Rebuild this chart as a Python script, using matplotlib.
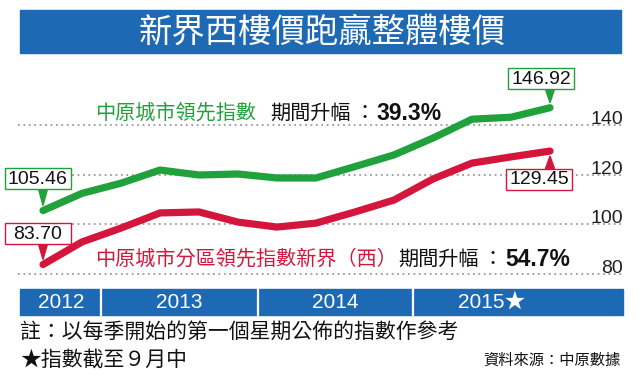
import matplotlib
matplotlib.use("Agg")
import matplotlib.pyplot as plt
import matplotlib.transforms as mtransforms
from matplotlib.patches import Rectangle, Polygon

plt.rcParams['font.family'] = ['Liberation Sans', 'Noto Sans CJK TC', 'DejaVu Sans']

# quarterly readings (first week of each quarter), last one = mid September 2015
quarters = ['2012Q3', '2012Q4', '2013Q1', '2013Q2', '2013Q3', '2013Q4', '2014Q1',
            '2014Q2', '2014Q3', '2014Q4', '2015Q1', '2015Q2', '2015Q3', '2015-09']
cci = [105.46, 112.4, 116.5, 121.8, 119.8, 120.2, 118.6,
       118.6, 123.2, 127.9, 134.7, 142.3, 143.1, 146.92]
cci_ntw = [83.70, 92.8, 98.4, 104.5, 104.9, 100.8, 98.8,
           100.4, 104.9, 109.7, 118.2, 124.6, 127.1, 129.45]
years = ['2012', '2013', '2014', '2015★']
yticks = [80, 100, 120, 140]

BLUE = '#1e69b4'
GREEN = '#21a13b'
RED = '#d5163c'

W, H = 639, 376
fig = plt.figure(figsize=(W / 100, H / 100), dpi=100)
fig.patch.set_facecolor('white')

# one axes over the whole picture, data mapped so one quarter = 39 px
x0_px, dx_px = 43, 39.0
y120_px, py_per_unit = 174.5, 2.48
ax = fig.add_axes([0, 0, 1, 1])
ax.set_xlim((0 - x0_px) / dx_px, (W - x0_px) / dx_px)
ax.set_ylim(120 - (H - y120_px) / py_per_unit, 120 + y120_px / py_per_unit)
ax.set_axis_off()


def px2x(px):
    return (px - x0_px) / dx_px


def fx(px):
    return px / W


def fy(py):
    return 1 - py / H


xs = list(range(len(quarters)))

# title bar
fig.patches.append(Rectangle((fx(20), fy(53)), fx(621) - fx(20), fy(10) - fy(53),
                             transform=fig.transFigure, color=BLUE, zorder=0))
fig.text(fx(322), fy(32), '新界西樓價跑贏整體樓價', color='white', fontsize=24,
         ha='center', va='center', family='Noto Sans CJK TC', weight='medium')

# dotted grid + right labels
ax.hlines(yticks, px2x(18), px2x(623), colors='#9a9a9a', linestyles=(0, (1, 2)),
          linewidth=1.3, zorder=1)
for v in yticks:
    ax.text(px2x(623), v + 0.3, str(v), ha='right', va='baseline', fontsize=14,
            color='#231f20', zorder=2)

ax.plot(xs, cci, color=GREEN, lw=5.2, solid_capstyle='round', solid_joinstyle='round', zorder=3)
ax.plot(xs, cci_ntw, color=RED, lw=5.2, solid_capstyle='round', solid_joinstyle='round', zorder=3)


def callout(i, vals, color, dx, dy, w=66, h=21):
    # value box + pointer triangle, offsets in pixels from the data point
    tr = mtransforms.Affine2D() + mtransforms.ScaledTranslation(i, vals[i], ax.transData)
    up = dy > 0
    edge = dy - h / 2 if up else dy + h / 2
    tip = 5 if up else -5
    ax.add_patch(Polygon([(-4.5, edge), (4.5, edge), (0, tip)], closed=True,
                         transform=tr, color=color, zorder=4))
    ax.add_patch(Rectangle((dx - w / 2, dy - h / 2), w, h, transform=tr,
                           facecolor='white', edgecolor=color, lw=1.0, zorder=5))
    ax.text(0, 0, '%.2f' % vals[i], transform=mtransforms.offset_copy(
        tr, fig=fig, x=dx, y=dy - 0.5, units='dots'),
        ha='center', va='center', fontsize=14, color='#111111', zorder=6)


last = len(quarters) - 1
callout(0, cci, GREEN, -5.5, 32)
callout(0, cci_ntw, RED, -5.5, 31)
callout(last, cci, GREEN, -9, 29)
callout(last, cci_ntw, RED, -11, -28)

# series labels
fig.text(fx(95), fy(113), '中原城市領先指數', color=GREEN, fontsize=14.5, va='center',
         family='Noto Sans CJK TC')
fig.text(fx(270), fy(113), '期間升幅', color='#111111', fontsize=14.5, va='center',
         family='Noto Sans CJK TC')
fig.text(fx(354), fy(113), '：', color='#111111', fontsize=14.5, va='center',
         family='Noto Sans CJK TC')
fig.text(fx(376), fy(113), '39.3%', color='#111111', fontsize=16.5, va='center',
         weight='bold')

fig.text(fx(95), fy(259), '中原城市分區領先指數新界（西）', color=RED, fontsize=14.5,
         va='center', family='Noto Sans CJK TC')
fig.text(fx(398), fy(259), '期間升幅', color='#111111', fontsize=14.5, va='center',
         family='Noto Sans CJK TC')
fig.text(fx(482), fy(259), '：', color='#111111', fontsize=14.5, va='center',
         family='Noto Sans CJK TC')
fig.text(fx(505), fy(259), '54.7%', color='#111111', fontsize=16.5, va='center',
         weight='bold')

# year bar, boundaries halfway between quarters
bounds = [px2x(20), 1.5, 5.5, 9.5, px2x(623)]
ybot, ytop = fy(315), fy(289)
for k, yr in enumerate(years):
    a, b = bounds[k], bounds[k + 1]
    xa, xb = ax.transData.transform([(a, 0), (b, 0)])[:, 0] / W
    fig.patches.append(Rectangle((xa, ybot), xb - xa, ytop - ybot, transform=fig.transFigure,
                                 color=BLUE, zorder=0))
    if k > 0:
        fig.lines.append(plt.Line2D([xa, xa], [ybot, ytop], transform=fig.transFigure,
                                    color='white', lw=1.6))
    c = (a + b) / 2 if k in (0, 1, 2) else a + 2
    cx = ax.transData.transform((c, 0))[0] / W
    fig.text(cx, fy(302.5), yr, color='white', fontsize=15, ha='center', va='center')

# notes
fig.text(fx(20), fy(332), '註：以每季開始的第一個星期公佈的指數作參考', fontsize=15,
         va='center', color='#111111', family='Noto Sans CJK TC', weight='medium')
fig.text(fx(20), fy(360), '★指數截至９月中', fontsize=15, va='center', color='#111111',
         family=['Noto Sans CJK TC', 'DejaVu Sans'], weight='medium')
fig.text(fx(621), fy(360), '資料來源：中原數據', fontsize=11, ha='right', va='center',
         color='#111111', family='Noto Sans CJK TC', weight='light')

fig.savefig('out.png', dpi=100)
